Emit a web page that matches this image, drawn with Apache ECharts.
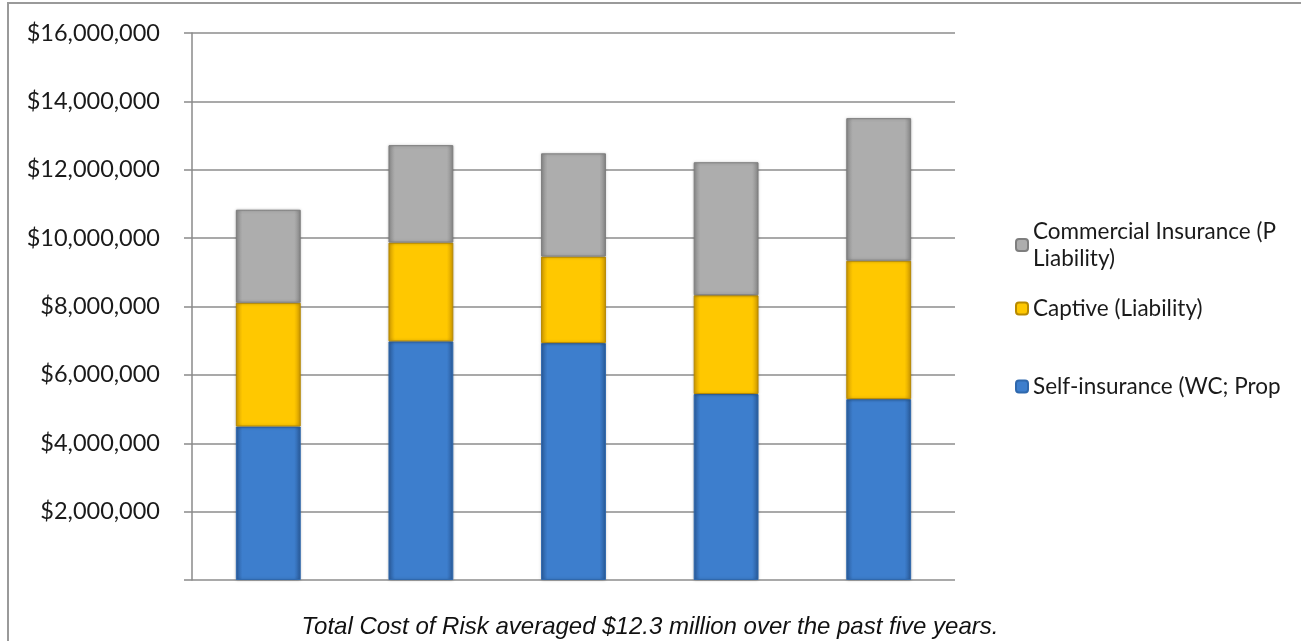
<!DOCTYPE html>
<html>
<head>
<meta charset="utf-8">
<script src="https://cdn.jsdelivr.net/npm/echarts@6/dist/echarts.min.js"></script>
<style>
  html, body { margin: 0; padding: 0; background: #fff; }
  #main { width: 1301px; height: 641px; }
</style>
</head>
<body>
<div id="main"></div>
<script>
// five years, labels are not shown on the chart
var years = ['Year 1', 'Year 2', 'Year 3', 'Year 4', 'Year 5'];
var selfInsurance = [4490000, 6980000, 6930000, 5440000, 5290000];
var captive = [3620000, 2890000, 2530000, 2890000, 4050000];
var commercial = [2720000, 2850000, 3020000, 3890000, 4170000];

var nameSelf = 'Self-insurance (WC; Prop';
var nameCaptive = 'Captive (Liability)';
var nameComm = 'Commercial Insurance (P\nLiability)';

function barFill(edge, mid) {
    return new echarts.graphic.LinearGradient(0, 0, 1, 0, [
        {offset: 0, color: edge},
        {offset: 0.1, color: mid},
        {offset: 0.9, color: mid},
        {offset: 1, color: edge}
    ]);
}

var myChart = echarts.init(document.getElementById('main'));

var legendText = {fontFamily: 'Lato', fontSize: 22.5, color: '#1a1a1a', lineHeight: 27};
function oneLegend(name, top) {
    return {
        data: [name],
        left: 1010,
        top: top,
        orient: 'vertical',
        itemWidth: 12,
        itemHeight: 12,
        itemGap: 4,
        textStyle: legendText,
        selectedMode: false
    };
}

var option = {
    animation: false,
    grid: {left: 192, right: 346, top: 33, bottom: 61},
    legend: [
        oneLegend(nameComm, 213),
        oneLegend(nameCaptive, 290),
        oneLegend(nameSelf, 368)
    ],
    xAxis: {
        type: 'category',
        data: years,
        axisLine: {show: false},
        axisTick: {show: false},
        axisLabel: {show: false}
    },
    yAxis: {
        type: 'value',
        min: 0,
        max: 16000000,
        interval: 2000000,
        axisLine: {show: true, lineStyle: {color: '#8a8a8a', width: 1.5}},
        axisTick: {show: true, length: 8, lineStyle: {color: '#8a8a8a', width: 1.5}},
        splitLine: {lineStyle: {color: '#8c8c8c', width: 1.5}},
        axisLabel: {
            margin: 32,
            fontFamily: 'Lato',
            fontSize: 23.5,
            color: '#1a1a1a',
            formatter: function (v) {
                if (v === 0) return '';
                return '$' + v.toLocaleString('en-US');
            }
        }
    },
    series: [
        {
            name: nameSelf,
            type: 'bar',
            stack: 'cost',
            barWidth: '42.5%',
            data: selfInsurance,
            itemStyle: {
                color: barFill('#2a5c9c', '#3d7ecd'),
                borderColor: '#2f68ad',
                borderWidth: 1,
                shadowBlur: 3,
                shadowColor: 'rgba(0,0,0,0.25)'
            }
        },
        {
            name: nameCaptive,
            type: 'bar',
            stack: 'cost',
            data: captive,
            itemStyle: {
                color: barFill('#d29c00', '#ffc800'),
                borderColor: '#b88a00',
                borderWidth: 1,
                shadowBlur: 3,
                shadowColor: 'rgba(0,0,0,0.25)'
            }
        },
        {
            name: nameComm,
            type: 'bar',
            stack: 'cost',
            data: commercial,
            itemStyle: {
                color: barFill('#8a8a8a', '#adadad'),
                borderColor: '#7e7e7e',
                borderWidth: 1,
                shadowBlur: 3,
                shadowColor: 'rgba(0,0,0,0.25)'
            }
        }
    ],
    graphic: [
        {
            type: 'rect',
            shape: {x: 8, y: 3, width: 1400, height: 700},
            style: {fill: 'none', stroke: '#9a9a9a', lineWidth: 2},
            silent: true
        },
        {
            type: 'text',
            x: 650,
            y: 627,
            style: {
                text: 'Total Cost of Risk averaged $12.3 million over the past five years.',
                font: 'italic 24px "Liberation Sans"',
                fill: '#111',
                align: 'center',
                verticalAlign: 'middle'
            }
        }
    ]
};

myChart.setOption(option);
</script>
</body>
</html>
